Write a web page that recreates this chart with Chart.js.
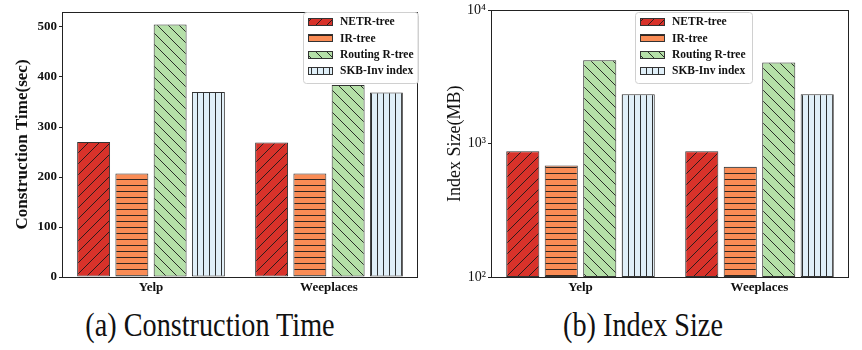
<!DOCTYPE html>
<html>
<head>
<meta charset="utf-8">
<script src="https://cdn.jsdelivr.net/npm/chart.js@4.4.1/dist/chart.umd.min.js"></script>
<style>
  html, body { margin: 0; padding: 0; background: #fff; }
  #wrap { position: relative; width: 862px; height: 350px; background: #fff; overflow: hidden; }
  .pane { position: absolute; top: 0; width: 431px; height: 300px; }
  .cap { position: absolute; top: 308px; font-family: "Liberation Serif", "Times New Roman", serif;
         font-size: 34px; line-height: 34px; color: #111; white-space: nowrap;
         transform: translateX(-50%) scaleX(0.83); transform-origin: center; }
</style>
</head>
<body>
<div id="wrap">
  <div class="pane" style="left:0"><canvas id="c1" width="431" height="300"></canvas></div>
  <div class="pane" style="left:431px"><canvas id="c2" width="431" height="300"></canvas></div>
  <div class="cap" style="left:210px">(a) Construction Time</div>
  <div class="cap" style="left:643px">(b) Index Size</div>
</div>
<script>
// ---- data ----
const categories = ['Yelp', 'Weeplaces'];
const seriesNames = ['NETR-tree', 'IR-tree', 'Routing R-tree', 'SKB-Inv index'];
const timeNETR = [270, 269];
const timeIR = [207, 207];
const timeRouting = [505, 384];
const timeSKB = [370, 369];
const sizeNETR = [877, 877];
const sizeIR = [685, 673];
const sizeRouting = [4220, 4070];
const sizeSKB = [2350, 2350];
const timeTicks = [0, 100, 200, 300, 400, 500];
const sizeTicks = [100, 1000, 10000];
const sizeTickLabels = ['10²', '10³', '10⁴'];

// ---- styles ----
const SERIF = '"Liberation Serif", "Times New Roman", serif';
function pat(bg, type, s) {
  const c = document.createElement('canvas');
  c.width = s; c.height = s;
  const x = c.getContext('2d');
  x.fillStyle = bg; x.fillRect(0, 0, s, s);
  x.strokeStyle = '#1a1a1a'; x.lineWidth = 0.9;
  x.beginPath();
  if (type === '/') {
    x.moveTo(0, s); x.lineTo(s, 0);
    x.moveTo(-1, 1); x.lineTo(1, -1);
    x.moveTo(s - 1, s + 1); x.lineTo(s + 1, s - 1);
  } else if (type === '\\') {
    x.moveTo(0, 0); x.lineTo(s, s);
    x.moveTo(s - 1, -1); x.lineTo(s + 1, 1);
    x.moveTo(-1, s - 1); x.lineTo(1, s + 1);
  } else if (type === '-') {
    x.moveTo(0, s - 0.5); x.lineTo(s, s - 0.5);
  } else {
    x.moveTo(s - 0.5, 0); x.lineTo(s - 0.5, s);
  }
  x.stroke();
  return x.createPattern(c, 'repeat');
}
const fills = [
  pat('#d8322a', '/', 11),
  pat('#fa8c55', '-', 6),
  pat('#b5e0a8', '\\', 11),
  pat('#e0eff8', '|', 6)
];

function datasets(arrs) {
  return arrs.map((d, i) => ({
    label: seriesNames[i], data: d,
    backgroundColor: fills[i], borderColor: '#333', borderWidth: 1, borderSkipped: false,
    categoryPercentage: 0.86, barPercentage: 0.86
  }));
}

const framePlugin = {
  id: 'frame',
  afterDatasetsDraw(chart) {
    const a = chart.chartArea, ctx = chart.ctx;
    ctx.save();
    ctx.strokeStyle = '#222'; ctx.lineWidth = 1;
    ctx.strokeRect(Math.round(a.left) + 0.5, Math.round(a.top) + 0.5,
                   Math.round(a.right - a.left) - 1, Math.round(a.bottom - a.top));
    ctx.restore();
  }
};
const legendPlugin = {
  id: 'boxlegend',
  afterDraw(chart, args, o) {
    const ctx = chart.ctx;
    ctx.save();
    ctx.fillStyle = 'rgba(255,255,255,0.9)';
    ctx.strokeStyle = '#d0d0d0'; ctx.lineWidth = 1;
    const r = 3, x = o.x + 0.5, y = o.y + 0.5, w = o.w, h = o.h;
    ctx.beginPath();
    ctx.moveTo(x + r, y); ctx.lineTo(x + w - r, y); ctx.quadraticCurveTo(x + w, y, x + w, y + r);
    ctx.lineTo(x + w, y + h - r); ctx.quadraticCurveTo(x + w, y + h, x + w - r, y + h);
    ctx.lineTo(x + r, y + h); ctx.quadraticCurveTo(x, y + h, x, y + h - r);
    ctx.lineTo(x, y + r); ctx.quadraticCurveTo(x, y, x + r, y);
    ctx.closePath(); ctx.fill(); ctx.stroke();
    ctx.font = 'bold 11.5px ' + SERIF;
    ctx.textBaseline = 'middle';
    seriesNames.forEach((n, i) => {
      const cy = o.y + 10 + i * 16.3;
      ctx.fillStyle = fills[i];
      ctx.fillRect(o.x + 5, Math.round(cy - 4), 25, 8);
      ctx.strokeStyle = '#333';
      ctx.strokeRect(o.x + 5.5, Math.round(cy - 4) + 0.5, 24, 7);
      ctx.fillStyle = '#111';
      ctx.fillText(n, o.x + 37, cy + 0.5);
    });
    ctx.restore();
  }
};

function makeChart(id, dsArrs, yOpts, leg, pad, yWidth) {
  return new Chart(document.getElementById(id), {
    type: 'bar',
    data: { labels: categories, datasets: datasets(dsArrs) },
    plugins: [framePlugin, legendPlugin],
    options: {
      responsive: false, animation: false, devicePixelRatio: 1,
      layout: { padding: pad },
      plugins: { legend: { display: false }, tooltip: { enabled: false }, boxlegend: leg },
      scales: {
        x: {
          grid: { display: false, drawTicks: false },
          border: { display: false },
          ticks: { color: '#111', font: { family: SERIF, size: 13, weight: 'bold' }, padding: 3, maxRotation: 0 },
          afterFit(s) { s.height = 23; }
        },
        y: Object.assign({
          grid: { drawOnChartArea: false, drawTicks: true, tickLength: 3, color: '#222' },
          border: { display: false },
          afterFit(s) { s.width = yWidth; }
        }, yOpts)
      }
    }
  });
}

makeChart('c1', [timeNETR, timeIR, timeRouting, timeSKB], {
  type: 'linear', min: 0, max: 530,
  afterBuildTicks(s) { s.ticks = timeTicks.map(v => ({ value: v })); },
  ticks: { color: '#111', font: { family: SERIF, size: 13, weight: 'bold' }, padding: 2 },
  title: { display: true, text: 'Construction Time(sec)', color: '#111',
           font: { family: SERIF, size: 17, weight: 'bold' }, padding: { top: 12, bottom: 0 } }
}, { x: 303, y: 12, w: 115, h: 71 }, { left: 0, right: 13, top: 12, bottom: 0 }, 62);

makeChart('c2', [sizeNETR, sizeIR, sizeRouting, sizeSKB], {
  type: 'logarithmic', min: 100, max: 10000,
  afterBuildTicks(s) { s.ticks = sizeTicks.map(v => ({ value: v })); },
  ticks: { color: '#111', font: { family: SERIF, size: 14 }, padding: 2,
           callback: (v) => sizeTickLabels[sizeTicks.indexOf(v)] },
  title: { display: true, text: 'Index Size(MB)', color: '#111',
           font: { family: SERIF, size: 18 }, padding: { top: 13, bottom: 0 } }
}, { x: 204, y: 12, w: 117, h: 71 }, { left: 0, right: 13, top: 9, bottom: 0 }, 60);
</script>
</body>
</html>
